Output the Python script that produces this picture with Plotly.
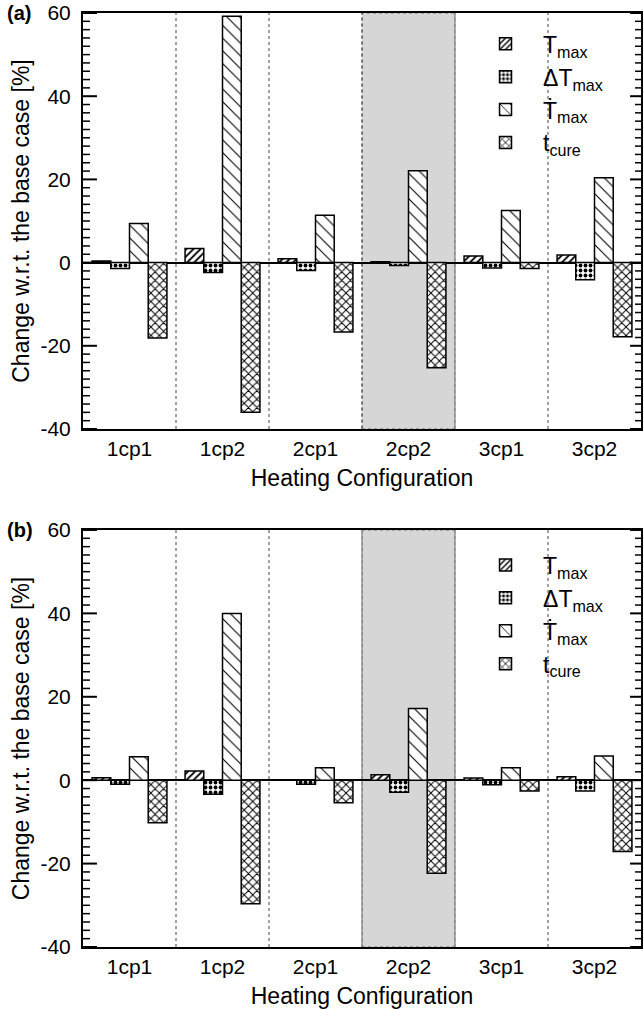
import plotly.graph_objects as go
from plotly.subplots import make_subplots

configs = ["1cp1", "1cp2", "2cp1", "2cp2", "3cp1", "3cp2"]
series_names = ["T<sub>max</sub>", "ΔT<sub>max</sub>", "Ṫ<sub>max</sub>", "t<sub>cure</sub>"]

# Panel (a)
a_Tmax = [0.4, 3.4, 0.9, 0.2, 1.6, 1.8]
a_dTmax = [-1.4, -2.4, -1.9, -0.7, -1.3, -4.1]
a_Tdot = [9.4, 59.2, 11.4, 22.1, 12.5, 20.4]
a_tcure = [-18.1, -36.0, -16.7, -25.3, -1.4, -17.8]

# Panel (b)
b_Tmax = [0.6, 2.2, 0.0, 1.3, 0.5, 0.8]
b_dTmax = [-1.0, -3.4, -1.0, -2.9, -1.1, -2.6]
b_Tdot = [5.6, 40.0, 3.0, 17.2, 3.0, 5.8]
b_tcure = [-10.2, -29.6, -5.4, -22.3, -2.6, -17.1]

y_ticks = [60, 40, 20, 0, -20, -40]
y_ticktext = ["60", "40", "20", "0", "-20", "-40"]
y_minor_ticks = list(range(-40, 61, 2))

patterns = [
    dict(shape="/", size=5, solidity=0.35, fgcolor="black", bgcolor="white", fillmode="replace"),
    dict(shape=".", size=5, solidity=0.45, fgcolor="black", bgcolor="white", fillmode="replace"),
    dict(shape="\\", size=9, solidity=0.12, fgcolor="black", bgcolor="white", fillmode="replace"),
    dict(shape="x", size=6, solidity=0.3, fgcolor="black", bgcolor="white", fillmode="replace"),
]

FONT = "Liberation Sans, Arial, Helvetica, sans-serif"
PLOT_W = 643 - 83  # plot width in px, used to convert tick lengths to domain fractions

fig = make_subplots(rows=2, cols=1, vertical_spacing=0.0)

panels = [
    (1, [a_Tmax, a_dTmax, a_Tdot, a_tcure], "legend", "a"),
    (2, [b_Tmax, b_dTmax, b_Tdot, b_tcure], "legend2", "b"),
]

for row, data, leg, tag in panels:
    for i, (name, vals) in enumerate(zip(series_names, data)):
        fig.add_trace(
            go.Bar(
                x=configs, y=vals, name=name,
                marker=dict(color="white", pattern=patterns[i],
                            line=dict(color="black", width=1.5)),
                legend=leg, legendgroup=f"{tag}{i}", showlegend=True,
            ),
            row=row, col=1,
        )

A_DOM = [0.5546, 1.0]
B_DOM = [0.0, 0.4465]

major_common = dict(
    range=[-40, 60], tickmode="array", tickvals=y_ticks, ticktext=y_ticktext,
    ticks="", showline=True, linewidth=2, linecolor="black", mirror=True,
    showgrid=False, zeroline=True, zerolinecolor="black", zerolinewidth=1.5,
    tickfont=dict(family=FONT, size=21, color="black"),
    ticklabelstandoff=6,
    title=dict(text="Change w.r.t. the base case [%]", font=dict(family=FONT, size=23, color="black"), standoff=4),
)

xaxis_common = dict(
    showline=True, linewidth=2, linecolor="black", mirror=True,
    ticks="", showgrid=False,
    tickfont=dict(family=FONT, size=21, color="black"),
    title=dict(text="Heating Configuration", font=dict(family=FONT, size=23, color="black"), standoff=11),
)

fig.update_layout(
    xaxis=xaxis_common, xaxis2=xaxis_common,
    yaxis=dict(domain=A_DOM, **major_common),
    yaxis2=dict(domain=B_DOM, **major_common),
)

shapes = []
for xr, yr in (("x", "y"), ("x2", "y2")):
    shapes.append(dict(type="rect", xref=xr, yref=f"{yr} domain", x0=2.5, x1=3.5, y0=0, y1=1,
                       fillcolor="#d6d6d6", line=dict(color="#666666", width=1, dash="dot"), layer="below"))
    for k in range(5):
        shapes.append(dict(type="line", xref=xr, yref=f"{yr} domain", x0=k + 0.5, x1=k + 0.5, y0=0, y1=1,
                           line=dict(color="#444444", width=1, dash="dot"), layer="below"))
    # axis tick marks (inside), drawn on the left and right edges of each panel
    for v in y_minor_ticks:
        major = v in y_ticks
        lenL = (14 if major else 7) / PLOT_W
        lenR = (11 if major else 6) / PLOT_W
        w = 2 if major else 1.5
        shapes.append(dict(type="line", xref=f"{xr} domain", yref=yr, x0=0.0, x1=lenL, y0=v, y1=v,
                           line=dict(color="#000000", width=w), layer="above"))
        shapes.append(dict(type="line", xref=f"{xr} domain", yref=yr, x0=1.0 - lenR, x1=1.0, y0=v, y1=v,
                           line=dict(color="#000000", width=w), layer="above"))

legend_common = dict(
    font=dict(family=FONT, size=23, color="black"),
    bgcolor="rgba(0,0,0,0)", borderwidth=0,
    xanchor="left", yanchor="top", tracegroupgap=20, itemwidth=65,
    traceorder="normal",
)

fig.update_layout(
    width=643, height=1009,
    margin=dict(l=83, r=0, t=13, b=62),
    paper_bgcolor="white", plot_bgcolor="white",
    barmode="group", bargap=0.195, bargroupgap=0.0,
    font=dict(family=FONT, color="black"),
    shapes=shapes,
    legend=dict(x=0.69, y=0.99, **legend_common),
    legend2=dict(x=0.69, y=0.432, **legend_common),
    annotations=[
        dict(text="<b>(a)</b>", xref="paper", yref="paper", x=-0.14, y=1.0, xanchor="left", yanchor="middle",
             showarrow=False, font=dict(family=FONT, size=20, color="black")),
        dict(text="<b>(b)</b>", xref="paper", yref="paper", x=-0.14, y=0.4465, xanchor="left", yanchor="middle",
             showarrow=False, font=dict(family=FONT, size=20, color="black")),
    ],
)

fig.write_html("out.html")
